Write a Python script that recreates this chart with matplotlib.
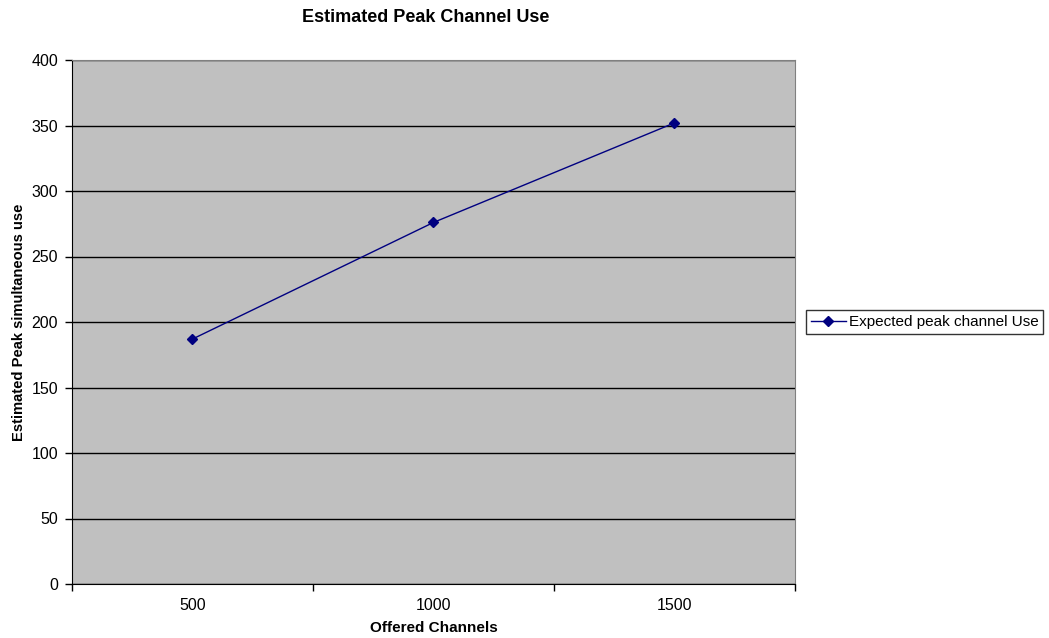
import numpy as np
import matplotlib.pyplot as plt

plt.rcParams["font.family"] = ["Liberation Sans", "DejaVu Sans"]

channels = ["500", "1000", "1500"]
peakUse = [187, 276, 352]

fig = plt.figure(figsize=(10.49, 6.38), dpi=100)
ax = fig.add_axes([72 / 1049, 1 - 584 / 638, (795 - 72) / 1049, (584 - 60) / 638])

ax.set_facecolor("#c0c0c0")
xPos = np.arange(len(channels))
ax.plot(xPos, peakUse, color="#000080", linewidth=1, marker="D", markersize=5,
        label="Expected peak channel Use")

ax.set_xlim(-0.5, len(channels) - 0.5)
ax.set_ylim(0, 400)
ax.set_yticks(np.arange(0, 401, 50))
ax.yaxis.grid(True, color="black", linewidth=1)
ax.set_axisbelow(True)

ax.set_xticks(xPos)
ax.set_xticklabels(channels)
ax.set_xticks(np.arange(-0.5, len(channels), 1), minor=True)
ax.tick_params(axis="x", which="major", length=0, pad=10, labelsize=11.5)
ax.tick_params(axis="x", which="minor", length=5, width=1, color="black")
ax.tick_params(axis="y", length=5, width=1, labelsize=11.5, pad=5)

for side in ["top", "right"]:
    ax.spines[side].set_color("#808080")
for side in ["left", "bottom"]:
    ax.spines[side].set_color("black")

fig.text(426 / 1049, 1 - 17 / 638, "Estimated Peak Channel Use", fontsize=13,
         fontweight="bold", ha="center", va="center")
ax.set_xlabel("Offered Channels", fontsize=11, fontweight="bold", labelpad=6)
ax.set_ylabel("Estimated Peak simultaneous use", fontsize=10.6, fontweight="bold", labelpad=4)

fig.legend(loc="center left", bbox_to_anchor=(806 / 1049, 1 - 322 / 638),
           frameon=True, fancybox=False, edgecolor="black", fontsize=11,
           handlelength=2.3, borderpad=0.3, handletextpad=0.2, borderaxespad=0)

fig.savefig("out.png", dpi=100)
